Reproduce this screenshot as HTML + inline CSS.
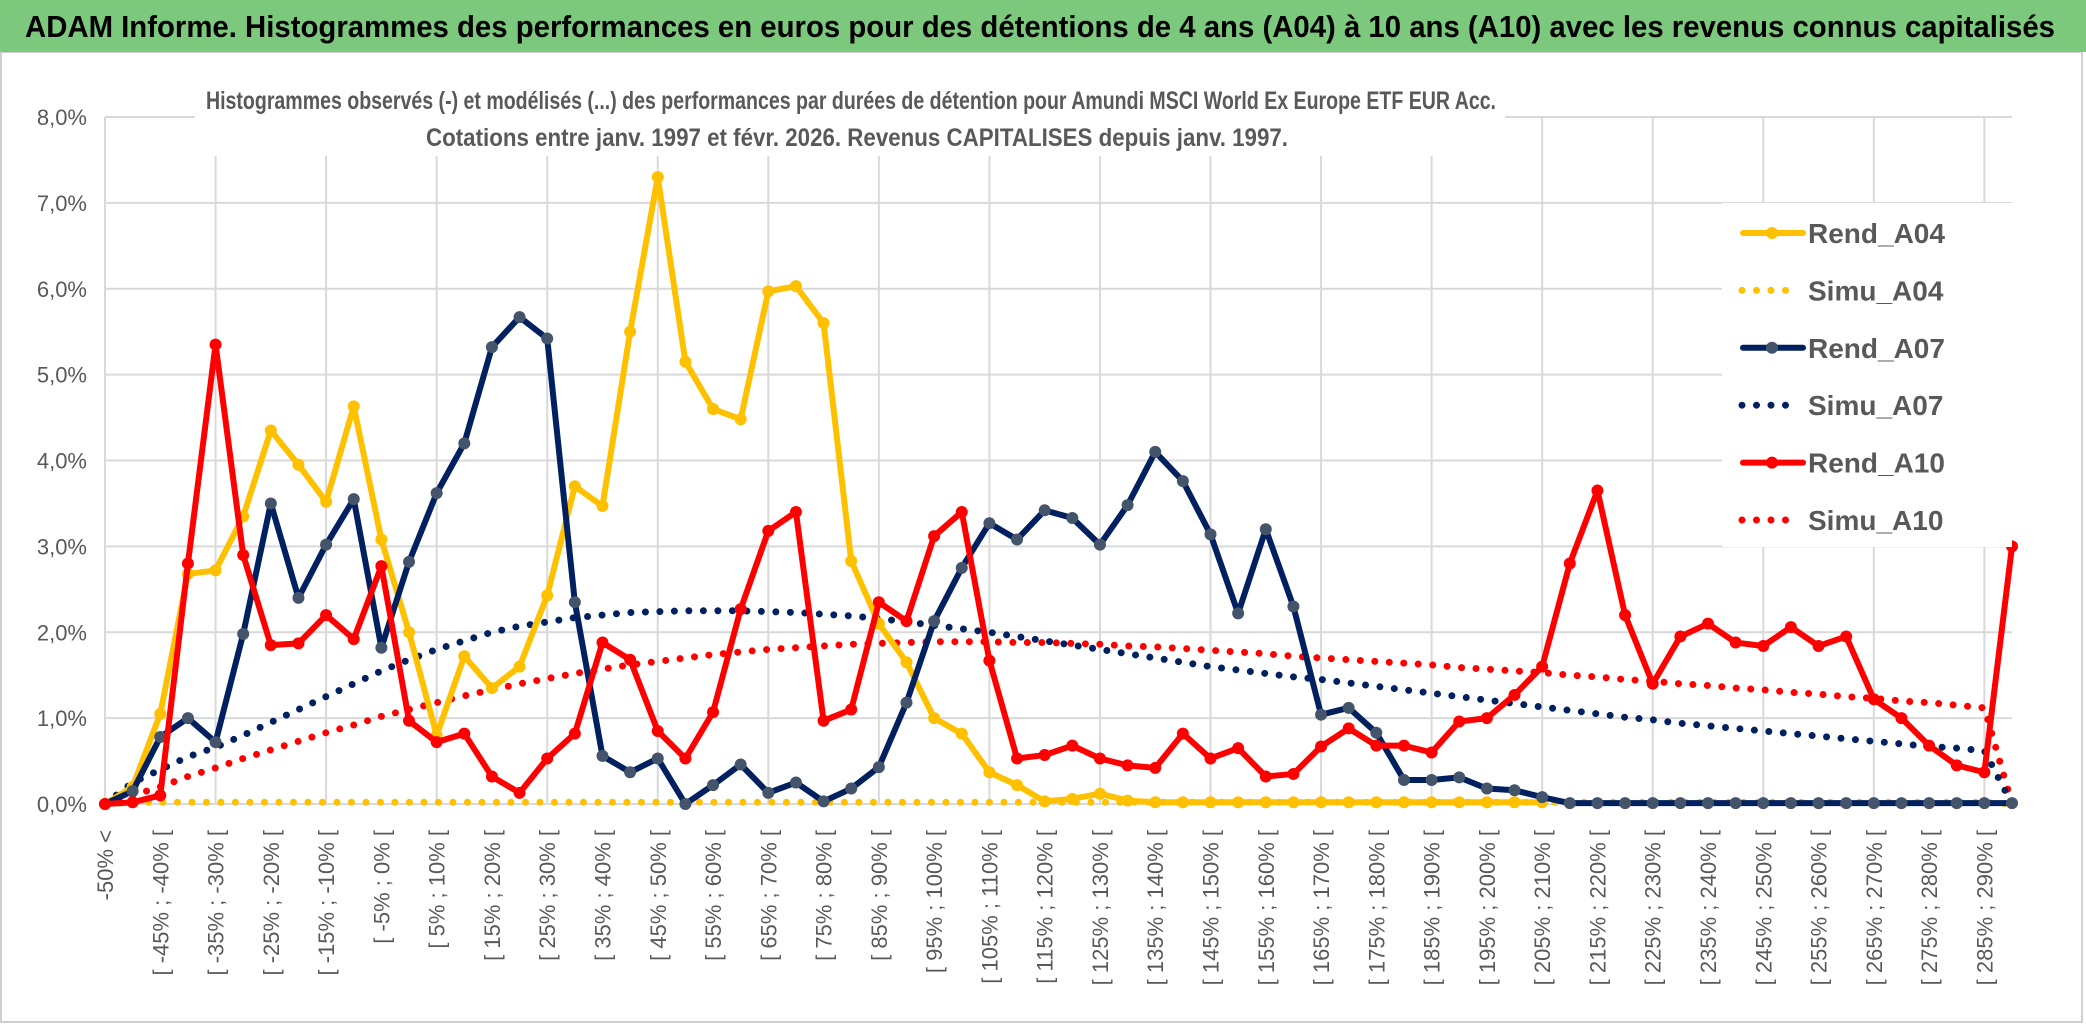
<!DOCTYPE html>
<html><head><meta charset="utf-8"><style>
html,body{margin:0;padding:0;background:#fff;}
svg{display:block;}
text{font-family:"Liberation Sans Narrow","Liberation Sans",sans-serif;}
</style></head><body>
<svg id="chart" width="2086" height="1031" viewBox="0 0 2086 1031" xmlns="http://www.w3.org/2000/svg">
  <rect x="0" y="0" width="2086" height="1031" fill="#fff"/>
  <rect x="1" y="52" width="2081" height="970" fill="none" stroke="#d0d0d0" stroke-width="2"/>
  <rect x="0" y="0" width="2086" height="52" fill="#7cc87c"/>
  <text x="25" y="37" font-size="31" font-weight="bold" fill="#000" textLength="2030" lengthAdjust="spacingAndGlyphs">ADAM Informe. Histogrammes des performances en euros pour des détentions de 4 ans (A04) à 10 ans (A10) avec les revenus connus capitalisés</text>
  <g id="grid"></g>
  <rect x="195" y="80" width="1310" height="76" fill="#fff"/>
  <text x="851" y="109" font-size="25" font-weight="bold" fill="#595959" text-anchor="middle" textLength="1290" lengthAdjust="spacingAndGlyphs">Histogrammes observés (-) et modélisés (...) des performances par durées de détention pour Amundi MSCI World Ex Europe ETF EUR Acc.</text>
  <text x="857" y="146" font-size="25" font-weight="bold" fill="#595959" text-anchor="middle" textLength="862" lengthAdjust="spacingAndGlyphs">Cotations entre janv. 1997 et févr. 2026. Revenus CAPITALISES depuis janv. 1997.</text>
  <g id="yaxis"></g>
  <g id="xaxis"></g>
  <g id="series"></g>
  <g id="legend"></g>
</svg>
<script>
const categories = ["-50% <"];
for (let k = -50; k < 290; k += 5) categories.push("[ " + k + "% ; " + (k + 5) + "% [");
categories.push("> 290%");

const yTicks = [0,1,2,3,4,5,6,7,8];
const yTickLabels = ["0,0%","1,0%","2,0%","3,0%","4,0%","5,0%","6,0%","7,0%","8,0%"];

const rendA04 = [0,0.2,1.05,2.68,2.72,3.35,4.35,3.95,3.52,4.63,3.08,2.0,0.8,1.72,1.35,1.6,2.43,3.7,3.47,5.5,7.3,5.15,4.6,4.48,5.97,6.03,5.6,2.83,2.1,1.65,1.0,0.82,0.37,0.22,0.03,0.06,0.12,0.04,0.02,0.02,0.02,0.02,0.02,0.02,0.02,0.02,0.02,0.02,0.02,0.02,0.02,0.02,0.02];
const simuA04 = [0,0.02,0.02,0.02,0.02,0.02,0.02,0.02,0.02,0.02,0.02,0.02,0.02,0.02,0.02,0.02,0.02,0.02,0.02,0.02,0.02,0.02,0.02,0.02,0.02,0.02,0.02,0.02,0.02,0.02,0.02,0.02,0.02,0.02,0.02,0.02,0.02,0.02,0.02,0.02,0.02,0.02,0.02,0.02,0.02,0.02,0.02,0.02,0.02,0.02,0.02,0.02,0.02,0.02,0.02,0.02,0.02,0.02,0.02,0.02,0.02,0.02,0.02,0.02,0.02,0.02,0.02,0.02,0.02,0];
const rendA07 = [0,0.15,0.78,1.0,0.72,1.98,3.5,2.4,3.02,3.55,1.82,2.82,3.62,4.2,5.32,5.67,5.42,2.35,0.56,0.37,0.53,0.0,0.22,0.46,0.13,0.25,0.03,0.18,0.43,1.18,2.13,2.75,3.27,3.08,3.42,3.33,3.02,3.48,4.1,3.76,3.14,2.22,3.2,2.3,1.04,1.12,0.83,0.28,0.28,0.31,0.18,0.16,0.08,0.01,0.01,0.01,0.01,0.01,0.01,0.01,0.01,0.01,0.01,0.01,0.01,0.01,0.01,0.01,0.01,0.01];
const simuA07 = [0,0.25,0.4,0.55,0.66,0.8,0.95,1.1,1.25,1.4,1.55,1.68,1.8,1.9,2.0,2.07,2.12,2.17,2.2,2.23,2.24,2.25,2.25,2.25,2.24,2.23,2.21,2.19,2.16,2.12,2.08,2.04,2.0,1.95,1.9,1.85,1.8,1.75,1.7,1.65,1.6,1.56,1.52,1.48,1.45,1.41,1.37,1.33,1.29,1.25,1.21,1.17,1.13,1.09,1.05,1.01,0.98,0.94,0.91,0.88,0.85,0.82,0.79,0.76,0.73,0.7,0.67,0.65,0.62,0];
const rendA10 = [0,0.02,0.1,2.8,5.35,2.9,1.85,1.87,2.2,1.92,2.77,0.97,0.72,0.82,0.32,0.13,0.53,0.82,1.88,1.68,0.85,0.53,1.07,2.27,3.18,3.4,0.97,1.1,2.35,2.13,3.12,3.4,1.67,0.53,0.57,0.68,0.53,0.45,0.42,0.82,0.53,0.65,0.32,0.35,0.67,0.88,0.68,0.68,0.6,0.96,1.0,1.27,1.6,2.8,3.65,2.2,1.4,1.95,2.1,1.88,1.84,2.06,1.84,1.95,1.22,1.0,0.68,0.45,0.37,3.0];
const simuA10 = [0,0.1,0.2,0.32,0.42,0.53,0.63,0.73,0.83,0.92,1.02,1.1,1.18,1.26,1.33,1.4,1.46,1.52,1.57,1.62,1.66,1.7,1.74,1.77,1.8,1.82,1.84,1.86,1.87,1.88,1.89,1.89,1.89,1.88,1.88,1.87,1.86,1.84,1.83,1.81,1.79,1.77,1.75,1.72,1.7,1.68,1.66,1.64,1.62,1.59,1.57,1.55,1.53,1.5,1.48,1.45,1.43,1.4,1.38,1.35,1.33,1.3,1.28,1.25,1.23,1.2,1.18,1.15,1.12,0];
const legendLabels = ["Rend_A04","Simu_A04","Rend_A07","Simu_A07","Rend_A10","Simu_A10"];

const NS = "http://www.w3.org/2000/svg";
const X0 = 105, X1 = 2012, Y0 = 804, YTOP = 117;
const n = categories.length;
function xPos(i){ return X0 + (X1 - X0) * i / (n - 1); }
function yPos(v){ return Y0 - (Y0 - YTOP) * v / 8; }
function mk(tag, attrs, parent){ const e = document.createElementNS(NS, tag); for (const k in attrs) e.setAttribute(k, attrs[k]); parent.appendChild(e); return e; }

const grid = document.getElementById('grid');
yTicks.forEach(function(t){
  const l = mk('line', {x1: X0, x2: X1, y1: yPos(t), y2: yPos(t), stroke: '#d9d9d9', 'stroke-width': 2}, grid);
  
  
});
for (let i = 0; i < n; i += 4) {
  const l = mk('line', {x1: xPos(i), x2: xPos(i), y1: YTOP, y2: Y0, stroke: '#d9d9d9', 'stroke-width': 2}, grid);
  
  
}

const yaxis = document.getElementById('yaxis');
yTicks.forEach(function(t, k){
  const tx = mk('text', {x: 87, y: yPos(t) + 8, 'font-size': 22, fill: '#595959', 'text-anchor': 'end'}, yaxis);
  tx.textContent = yTickLabels[k];
  
  
});

const xaxis = document.getElementById('xaxis');
for (let i = 0; i < n; i += 2) {
  const x = xPos(i) + 8;
  const tx = mk('text', {x: x, y: 830, 'font-size': 22, fill: '#595959', 'text-anchor': 'end', transform: 'rotate(-90 ' + x + ' 830)'}, xaxis);
  tx.textContent = categories[i];
  
  
}

const seriesG = document.getElementById('series');
function pts(arr){ return arr.map(function(v, i){ return xPos(i) + ',' + yPos(v); }).join(' '); }
function dotted(arr, color, name){
  const p = mk('polyline', {points: pts(arr), fill: 'none', stroke: color, 'stroke-width': 7, 'stroke-linecap': 'round', 'stroke-dasharray': '0 14.5'}, seriesG);
  
  
}
function solid(arr, color, mcolor, name){
  const p = mk('polyline', {points: pts(arr), fill: 'none', stroke: color, 'stroke-width': 6, 'stroke-linejoin': 'round'}, seriesG);
  
  
  arr.forEach(function(v, i){
    const c = mk('circle', {cx: xPos(i), cy: yPos(v), r: 6, fill: mcolor}, seriesG);
    
    
  });
}
dotted(simuA04, '#ffc000', 'simu-a04');
dotted(simuA10, '#ff0000', 'simu-a10');
dotted(simuA07, '#002060', 'simu-a07');
solid(rendA04, '#ffc000', '#ffc000', 'rend-a04');
solid(rendA07, '#002060', '#44546a', 'rend-a07');
solid(rendA10, '#ff0000', '#ff0000', 'rend-a10');

const legend = document.getElementById('legend');
const lb = mk('rect', {x: 1722, y: 203, width: 290, height: 344, fill: '#fff'}, legend);


const legColors = ['#ffc000','#ffc000','#002060','#002060','#ff0000','#ff0000'];
const legMark = ['#ffc000','#ffc000','#44546a','#44546a','#ff0000','#ff0000'];
legendLabels.forEach(function(lab, k){
  const y = 233 + k * 57.4;
  const g = mk('g', {}, legend);
  
  
  if (k % 2 === 0) {
    mk('line', {x1: 1743, x2: 1803, y1: y, y2: y, stroke: legColors[k], 'stroke-width': 6, 'stroke-linecap': 'round'}, g);
    mk('circle', {cx: 1772, cy: y, r: 6, fill: legMark[k]}, g);
  } else {
    mk('line', {x1: 1742, x2: 1800, y1: y, y2: y, stroke: legColors[k], 'stroke-width': 7, 'stroke-linecap': 'round', 'stroke-dasharray': '0 14.5'}, g);
  }
  const t = mk('text', {x: 1808, y: y + 10, 'font-size': 28, 'font-weight': 'bold', fill: '#595959'}, g);
  t.textContent = lab;
});
</script>
</body></html>
